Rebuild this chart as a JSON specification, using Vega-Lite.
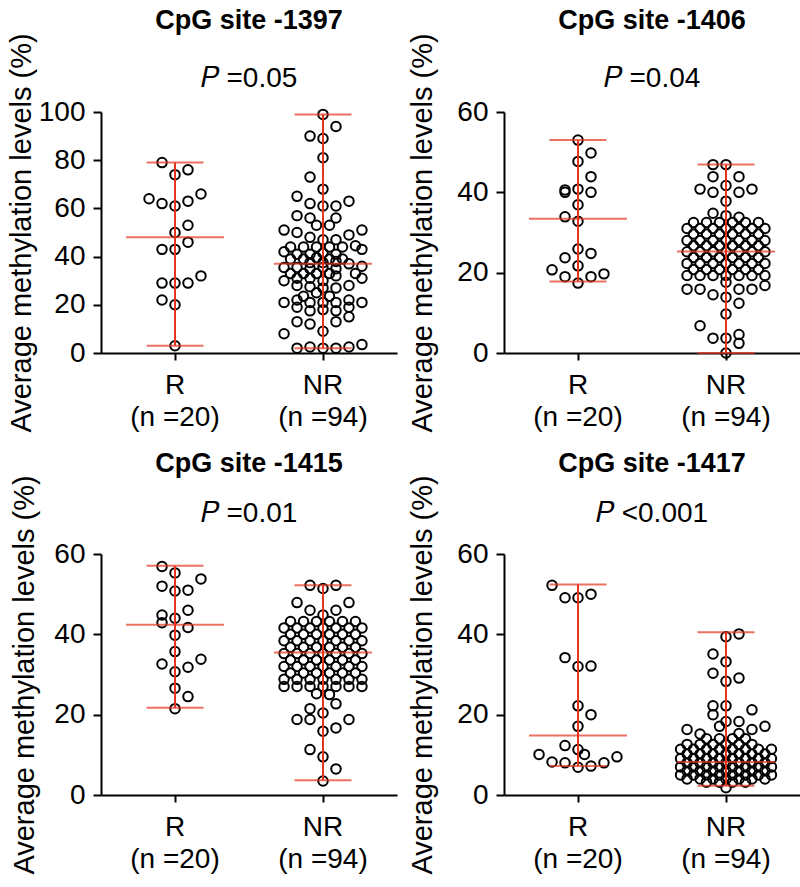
{
  "$schema": "https://vega.github.io/schema/vega-lite/v6.json",
  "padding": {"left": 7, "top": 6, "right": 2, "bottom": 2},
  "background": "white",
  "config": {
    "font": "Liberation Sans",
    "view": {"stroke": null},
    "axis": {"domainColor": "black", "domainWidth": 2, "tickColor": "black", "tickWidth": 2, "tickSize": 8, "labelColor": "black", "titleColor": "black", "labelFontSize": 28, "titleFontSize": 29, "titleFontWeight": "normal", "grid": false, "labelFont": "Liberation Sans", "titleFont": "Liberation Sans", "labelPadding": 8},
    "axisX": {"labelAngle": 0, "tickSize": 7, "labelPadding": 11, "labelLineHeight": 32},
    "point": {"shape": "circle", "filled": false, "stroke": "black", "strokeWidth": 2, "size": 90, "opacity": 1},
    "tick": {"color": "#e6341f", "thickness": 2, "orient": "horizontal"},
    "rule": {"color": "#e6341f", "strokeWidth": 2},
    "title": {"fontSize": 27, "fontWeight": "bold", "subtitleFontSize": 28, "color": "black", "subtitleColor": "black", "anchor": "middle", "font": "Liberation Sans", "subtitleFont": "Liberation Sans"}
  },
  "datasets": {
    "pts": [
      {"site":"-1397","group":"R","slot":-1,"value":79},{"site":"-1397","group":"R","slot":0,"value":74},{"site":"-1397","group":"R","slot":1,"value":76},{"site":"-1397","group":"R","slot":-2,"value":64},{"site":"-1397","group":"R","slot":-1,"value":62},{"site":"-1397","group":"R","slot":0,"value":61},{"site":"-1397","group":"R","slot":1,"value":63},{"site":"-1397","group":"R","slot":2,"value":66},{"site":"-1397","group":"R","slot":1,"value":53},{"site":"-1397","group":"R","slot":0,"value":50},{"site":"-1397","group":"R","slot":-1,"value":43},{"site":"-1397","group":"R","slot":0,"value":43},{"site":"-1397","group":"R","slot":1,"value":46},{"site":"-1397","group":"R","slot":-1,"value":29},{"site":"-1397","group":"R","slot":0,"value":29},{"site":"-1397","group":"R","slot":1,"value":29},{"site":"-1397","group":"R","slot":2,"value":32},{"site":"-1397","group":"R","slot":-1,"value":22},{"site":"-1397","group":"R","slot":0,"value":20},{"site":"-1397","group":"R","slot":0,"value":3},

      {"site":"-1397","group":"NR","slot":0,"value":99},{"site":"-1397","group":"NR","slot":1,"value":94},{"site":"-1397","group":"NR","slot":-1,"value":90},{"site":"-1397","group":"NR","slot":0,"value":89},{"site":"-1397","group":"NR","slot":0,"value":81},{"site":"-1397","group":"NR","slot":-1,"value":73},{"site":"-1397","group":"NR","slot":0,"value":68},
      {"site":"-1397","group":"NR","slot":-2,"value":65},{"site":"-1397","group":"NR","slot":-1,"value":62},{"site":"-1397","group":"NR","slot":0,"value":61},{"site":"-1397","group":"NR","slot":1,"value":61},{"site":"-1397","group":"NR","slot":2,"value":63},
      {"site":"-1397","group":"NR","slot":-2,"value":57},{"site":"-1397","group":"NR","slot":-1,"value":56},{"site":"-1397","group":"NR","slot":1,"value":56},{"site":"-1397","group":"NR","slot":-0.5,"value":53},{"site":"-1397","group":"NR","slot":0.5,"value":53},
      {"site":"-1397","group":"NR","slot":-3,"value":51},{"site":"-1397","group":"NR","slot":-2,"value":50},{"site":"-1397","group":"NR","slot":-1,"value":48},{"site":"-1397","group":"NR","slot":0,"value":47},{"site":"-1397","group":"NR","slot":1,"value":47},{"site":"-1397","group":"NR","slot":2,"value":49},{"site":"-1397","group":"NR","slot":3,"value":51},
      {"site":"-1397","group":"NR","slot":-3,"value":42},{"site":"-1397","group":"NR","slot":-2.5,"value":44},{"site":"-1397","group":"NR","slot":-1.5,"value":44},{"site":"-1397","group":"NR","slot":-0.5,"value":44},{"site":"-1397","group":"NR","slot":0.5,"value":44},{"site":"-1397","group":"NR","slot":1.5,"value":44},{"site":"-1397","group":"NR","slot":2.5,"value":44.5},{"site":"-1397","group":"NR","slot":3,"value":43},
      {"site":"-1397","group":"NR","slot":-2,"value":41},{"site":"-1397","group":"NR","slot":-1,"value":41},{"site":"-1397","group":"NR","slot":0,"value":41.5},{"site":"-1397","group":"NR","slot":1,"value":41},
      {"site":"-1397","group":"NR","slot":-2.5,"value":39},{"site":"-1397","group":"NR","slot":-1.5,"value":39},{"site":"-1397","group":"NR","slot":-0.5,"value":39.5},{"site":"-1397","group":"NR","slot":0.5,"value":39},{"site":"-1397","group":"NR","slot":1.5,"value":39},
      {"site":"-1397","group":"NR","slot":-1,"value":37.5},{"site":"-1397","group":"NR","slot":0,"value":37.5},{"site":"-1397","group":"NR","slot":1,"value":38},{"site":"-1397","group":"NR","slot":2,"value":37},
      {"site":"-1397","group":"NR","slot":-3,"value":35.5},{"site":"-1397","group":"NR","slot":-2,"value":35.5},{"site":"-1397","group":"NR","slot":-1,"value":35},{"site":"-1397","group":"NR","slot":0,"value":35.5},{"site":"-1397","group":"NR","slot":1,"value":35},{"site":"-1397","group":"NR","slot":3,"value":36},
      {"site":"-1397","group":"NR","slot":-2.5,"value":33},{"site":"-1397","group":"NR","slot":-1.5,"value":33},{"site":"-1397","group":"NR","slot":-0.5,"value":33},{"site":"-1397","group":"NR","slot":0.5,"value":33},{"site":"-1397","group":"NR","slot":2.5,"value":33},
      {"site":"-1397","group":"NR","slot":-3,"value":30},{"site":"-1397","group":"NR","slot":-2,"value":31},{"site":"-1397","group":"NR","slot":-1,"value":31},{"site":"-1397","group":"NR","slot":0,"value":30},{"site":"-1397","group":"NR","slot":1,"value":32},{"site":"-1397","group":"NR","slot":3,"value":31},
      {"site":"-1397","group":"NR","slot":-2,"value":28},{"site":"-1397","group":"NR","slot":-1,"value":27.5},{"site":"-1397","group":"NR","slot":0,"value":27},{"site":"-1397","group":"NR","slot":1,"value":27},{"site":"-1397","group":"NR","slot":2,"value":28},
      {"site":"-1397","group":"NR","slot":-1.5,"value":23.5},{"site":"-1397","group":"NR","slot":-0.5,"value":25},{"site":"-1397","group":"NR","slot":0.5,"value":23.5},
      {"site":"-1397","group":"NR","slot":-3,"value":21},{"site":"-1397","group":"NR","slot":-2,"value":22},{"site":"-1397","group":"NR","slot":-1,"value":21},{"site":"-1397","group":"NR","slot":0,"value":21},{"site":"-1397","group":"NR","slot":1,"value":21},{"site":"-1397","group":"NR","slot":2,"value":22},{"site":"-1397","group":"NR","slot":3,"value":21},
      {"site":"-1397","group":"NR","slot":-2,"value":19},{"site":"-1397","group":"NR","slot":-1,"value":17.5},{"site":"-1397","group":"NR","slot":0,"value":18},{"site":"-1397","group":"NR","slot":1,"value":17.5},{"site":"-1397","group":"NR","slot":2,"value":19},
      {"site":"-1397","group":"NR","slot":2,"value":15},{"site":"-1397","group":"NR","slot":1,"value":13},{"site":"-1397","group":"NR","slot":-2,"value":13},{"site":"-1397","group":"NR","slot":-1,"value":12},
      {"site":"-1397","group":"NR","slot":0,"value":9},{"site":"-1397","group":"NR","slot":-3,"value":8},
      {"site":"-1397","group":"NR","slot":-2,"value":2},{"site":"-1397","group":"NR","slot":-1,"value":2.5},{"site":"-1397","group":"NR","slot":0,"value":2},{"site":"-1397","group":"NR","slot":1,"value":2},{"site":"-1397","group":"NR","slot":2,"value":2.5},{"site":"-1397","group":"NR","slot":3,"value":3.5},

      {"site":"-1406","group":"R","slot":0,"value":53},{"site":"-1406","group":"R","slot":1,"value":49.8},{"site":"-1406","group":"R","slot":0,"value":47.7},{"site":"-1406","group":"R","slot":1,"value":43.9},{"site":"-1406","group":"R","slot":-1,"value":40.6},{"site":"-1406","group":"R","slot":-1,"value":40},{"site":"-1406","group":"R","slot":0,"value":40.8},{"site":"-1406","group":"R","slot":1,"value":40},{"site":"-1406","group":"R","slot":0,"value":36.9},{"site":"-1406","group":"R","slot":-1,"value":33.9},{"site":"-1406","group":"R","slot":0,"value":32.8},{"site":"-1406","group":"R","slot":0,"value":25.9},{"site":"-1406","group":"R","slot":1,"value":24.8},{"site":"-1406","group":"R","slot":-1,"value":23.7},{"site":"-1406","group":"R","slot":0,"value":21.7},{"site":"-1406","group":"R","slot":-2,"value":20.7},{"site":"-1406","group":"R","slot":-1,"value":19},{"site":"-1406","group":"R","slot":1,"value":19},{"site":"-1406","group":"R","slot":2,"value":19.7},{"site":"-1406","group":"R","slot":0,"value":17.4},

      {"site":"-1406","group":"NR","slot":-1,"value":46.9},{"site":"-1406","group":"NR","slot":0,"value":46.9},{"site":"-1406","group":"NR","slot":-1,"value":43.9},{"site":"-1406","group":"NR","slot":1,"value":43.9},{"site":"-1406","group":"NR","slot":-2,"value":40.8},{"site":"-1406","group":"NR","slot":-1,"value":40},{"site":"-1406","group":"NR","slot":0,"value":41.7},{"site":"-1406","group":"NR","slot":1,"value":40},{"site":"-1406","group":"NR","slot":2,"value":40.8},{"site":"-1406","group":"NR","slot":0,"value":37.8},{"site":"-1406","group":"NR","slot":-1,"value":34.8},{"site":"-1406","group":"NR","slot":1,"value":33.8},{"site":"-1406","group":"NR","slot":0,"value":34.2},
      {"site":"-1406","group":"NR","slot":-2.5,"value":32.5},{"site":"-1406","group":"NR","slot":-1.5,"value":32.5},{"site":"-1406","group":"NR","slot":-0.5,"value":32.5},{"site":"-1406","group":"NR","slot":0.5,"value":32.5},{"site":"-1406","group":"NR","slot":1.5,"value":32.5},{"site":"-1406","group":"NR","slot":2.5,"value":32.5},
      {"site":"-1406","group":"NR","slot":-3,"value":31},{"site":"-1406","group":"NR","slot":-2,"value":31},{"site":"-1406","group":"NR","slot":-1,"value":31},{"site":"-1406","group":"NR","slot":0,"value":31},{"site":"-1406","group":"NR","slot":1,"value":31},{"site":"-1406","group":"NR","slot":2,"value":31},{"site":"-1406","group":"NR","slot":3,"value":31},
      {"site":"-1406","group":"NR","slot":-2.5,"value":29.6},{"site":"-1406","group":"NR","slot":-1.5,"value":29.6},{"site":"-1406","group":"NR","slot":-0.5,"value":29.6},{"site":"-1406","group":"NR","slot":0.5,"value":29.6},{"site":"-1406","group":"NR","slot":1.5,"value":29.6},{"site":"-1406","group":"NR","slot":2.5,"value":29.6},
      {"site":"-1406","group":"NR","slot":-3,"value":28},{"site":"-1406","group":"NR","slot":-2,"value":28},{"site":"-1406","group":"NR","slot":-1,"value":28},{"site":"-1406","group":"NR","slot":0,"value":28},{"site":"-1406","group":"NR","slot":1,"value":28},{"site":"-1406","group":"NR","slot":2,"value":28},{"site":"-1406","group":"NR","slot":3,"value":28},
      {"site":"-1406","group":"NR","slot":-2.5,"value":26.7},{"site":"-1406","group":"NR","slot":-1.5,"value":26.7},{"site":"-1406","group":"NR","slot":-0.5,"value":26.7},{"site":"-1406","group":"NR","slot":0.5,"value":26.7},{"site":"-1406","group":"NR","slot":1.5,"value":26.7},{"site":"-1406","group":"NR","slot":2.5,"value":26.7},
      {"site":"-1406","group":"NR","slot":-3,"value":25.2},{"site":"-1406","group":"NR","slot":-2,"value":25.2},{"site":"-1406","group":"NR","slot":-1,"value":25.2},{"site":"-1406","group":"NR","slot":0,"value":25.2},{"site":"-1406","group":"NR","slot":1,"value":25.2},{"site":"-1406","group":"NR","slot":2,"value":25.2},{"site":"-1406","group":"NR","slot":3,"value":25.2},
      {"site":"-1406","group":"NR","slot":-2.5,"value":23.8},{"site":"-1406","group":"NR","slot":-1.5,"value":23.8},{"site":"-1406","group":"NR","slot":-0.5,"value":23.8},{"site":"-1406","group":"NR","slot":0.5,"value":23.8},{"site":"-1406","group":"NR","slot":1.5,"value":23.8},{"site":"-1406","group":"NR","slot":2.5,"value":23.8},
      {"site":"-1406","group":"NR","slot":-3,"value":22.3},{"site":"-1406","group":"NR","slot":-2,"value":22.3},{"site":"-1406","group":"NR","slot":-1,"value":22.3},{"site":"-1406","group":"NR","slot":0,"value":22.3},{"site":"-1406","group":"NR","slot":1,"value":22.3},{"site":"-1406","group":"NR","slot":2,"value":22.3},{"site":"-1406","group":"NR","slot":3,"value":22.3},
      {"site":"-1406","group":"NR","slot":-2.5,"value":20.8},{"site":"-1406","group":"NR","slot":-1.5,"value":20.8},{"site":"-1406","group":"NR","slot":-0.5,"value":20.8},{"site":"-1406","group":"NR","slot":0.5,"value":20.8},{"site":"-1406","group":"NR","slot":1.5,"value":20.8},{"site":"-1406","group":"NR","slot":2.5,"value":20.8},
      {"site":"-1406","group":"NR","slot":-3,"value":19.3},{"site":"-1406","group":"NR","slot":-2,"value":19.3},{"site":"-1406","group":"NR","slot":-1,"value":19.3},{"site":"-1406","group":"NR","slot":0,"value":19.3},{"site":"-1406","group":"NR","slot":1,"value":19.3},{"site":"-1406","group":"NR","slot":2,"value":19.3},{"site":"-1406","group":"NR","slot":3,"value":19.3},
      {"site":"-1406","group":"NR","slot":0,"value":17.6},
      {"site":"-1406","group":"NR","slot":-3,"value":15.9},{"site":"-1406","group":"NR","slot":-2,"value":15.9},{"site":"-1406","group":"NR","slot":-1,"value":14.5},{"site":"-1406","group":"NR","slot":1,"value":15.9},{"site":"-1406","group":"NR","slot":2,"value":15.9},{"site":"-1406","group":"NR","slot":3,"value":16.8},{"site":"-1406","group":"NR","slot":0,"value":13.9},{"site":"-1406","group":"NR","slot":1,"value":12.4},{"site":"-1406","group":"NR","slot":0,"value":9.7},{"site":"-1406","group":"NR","slot":-2,"value":6.8},{"site":"-1406","group":"NR","slot":-1,"value":3.7},{"site":"-1406","group":"NR","slot":0,"value":3.7},{"site":"-1406","group":"NR","slot":1,"value":4.6},{"site":"-1406","group":"NR","slot":1,"value":2.4},{"site":"-1406","group":"NR","slot":0,"value":0},

      {"site":"-1415","group":"R","slot":-1,"value":56.9},{"site":"-1415","group":"R","slot":0,"value":55.3},{"site":"-1415","group":"R","slot":2,"value":53.8},{"site":"-1415","group":"R","slot":-1,"value":52},{"site":"-1415","group":"R","slot":0,"value":50.8},{"site":"-1415","group":"R","slot":1,"value":51},{"site":"-1415","group":"R","slot":1,"value":46},{"site":"-1415","group":"R","slot":-1,"value":44.8},{"site":"-1415","group":"R","slot":-1,"value":42.9},{"site":"-1415","group":"R","slot":0,"value":44},{"site":"-1415","group":"R","slot":1,"value":41.7},{"site":"-1415","group":"R","slot":0,"value":39.8},{"site":"-1415","group":"R","slot":0,"value":35.7},{"site":"-1415","group":"R","slot":-1,"value":32.6},{"site":"-1415","group":"R","slot":0,"value":30.7},{"site":"-1415","group":"R","slot":1,"value":31.8},{"site":"-1415","group":"R","slot":2,"value":33.8},{"site":"-1415","group":"R","slot":0,"value":26.6},{"site":"-1415","group":"R","slot":1,"value":24.5},{"site":"-1415","group":"R","slot":0,"value":21.5},

      {"site":"-1415","group":"NR","slot":-1,"value":52.2},{"site":"-1415","group":"NR","slot":1,"value":52.2},{"site":"-1415","group":"NR","slot":0,"value":51.4},{"site":"-1415","group":"NR","slot":-2,"value":47.9},{"site":"-1415","group":"NR","slot":2,"value":47.9},{"site":"-1415","group":"NR","slot":-1,"value":46},{"site":"-1415","group":"NR","slot":1,"value":46},{"site":"-1415","group":"NR","slot":0,"value":44.8},
      {"site":"-1415","group":"NR","slot":-2.5,"value":43.2},{"site":"-1415","group":"NR","slot":-1.5,"value":43.2},{"site":"-1415","group":"NR","slot":-0.5,"value":43.2},{"site":"-1415","group":"NR","slot":0.5,"value":43.2},{"site":"-1415","group":"NR","slot":1.5,"value":43.2},{"site":"-1415","group":"NR","slot":2.5,"value":43.2},
      {"site":"-1415","group":"NR","slot":-3,"value":41.6},{"site":"-1415","group":"NR","slot":-2,"value":41.6},{"site":"-1415","group":"NR","slot":-1,"value":41.6},{"site":"-1415","group":"NR","slot":0,"value":41.6},{"site":"-1415","group":"NR","slot":1,"value":41.6},{"site":"-1415","group":"NR","slot":2,"value":41.6},{"site":"-1415","group":"NR","slot":3,"value":41.6},
      {"site":"-1415","group":"NR","slot":-2.5,"value":40},{"site":"-1415","group":"NR","slot":-1.5,"value":40},{"site":"-1415","group":"NR","slot":-0.5,"value":40},{"site":"-1415","group":"NR","slot":0.5,"value":40},{"site":"-1415","group":"NR","slot":1.5,"value":40},{"site":"-1415","group":"NR","slot":2.5,"value":40},
      {"site":"-1415","group":"NR","slot":-3,"value":38.4},{"site":"-1415","group":"NR","slot":-2,"value":38.4},{"site":"-1415","group":"NR","slot":-1,"value":38.4},{"site":"-1415","group":"NR","slot":0,"value":38.4},{"site":"-1415","group":"NR","slot":1,"value":38.4},{"site":"-1415","group":"NR","slot":2,"value":38.4},{"site":"-1415","group":"NR","slot":3,"value":38.4},
      {"site":"-1415","group":"NR","slot":-2.5,"value":36.8},{"site":"-1415","group":"NR","slot":-1.5,"value":36.8},{"site":"-1415","group":"NR","slot":-0.5,"value":36.8},{"site":"-1415","group":"NR","slot":0.5,"value":36.8},{"site":"-1415","group":"NR","slot":1.5,"value":36.8},{"site":"-1415","group":"NR","slot":2.5,"value":36.8},
      {"site":"-1415","group":"NR","slot":-3,"value":35.2},{"site":"-1415","group":"NR","slot":-2,"value":35.2},{"site":"-1415","group":"NR","slot":-1,"value":35.2},{"site":"-1415","group":"NR","slot":0,"value":35.2},{"site":"-1415","group":"NR","slot":1,"value":35.2},{"site":"-1415","group":"NR","slot":2,"value":35.2},{"site":"-1415","group":"NR","slot":3,"value":35.2},
      {"site":"-1415","group":"NR","slot":-2.5,"value":33.6},{"site":"-1415","group":"NR","slot":-1.5,"value":33.6},{"site":"-1415","group":"NR","slot":-0.5,"value":33.6},{"site":"-1415","group":"NR","slot":0.5,"value":33.6},{"site":"-1415","group":"NR","slot":1.5,"value":33.6},{"site":"-1415","group":"NR","slot":2.5,"value":33.6},
      {"site":"-1415","group":"NR","slot":-3,"value":32},{"site":"-1415","group":"NR","slot":-2,"value":32},{"site":"-1415","group":"NR","slot":-1,"value":32},{"site":"-1415","group":"NR","slot":0,"value":32},{"site":"-1415","group":"NR","slot":1,"value":32},{"site":"-1415","group":"NR","slot":2,"value":32},{"site":"-1415","group":"NR","slot":3,"value":32},
      {"site":"-1415","group":"NR","slot":-2.5,"value":30.4},{"site":"-1415","group":"NR","slot":-1.5,"value":30.4},{"site":"-1415","group":"NR","slot":-0.5,"value":30.4},{"site":"-1415","group":"NR","slot":0.5,"value":30.4},{"site":"-1415","group":"NR","slot":1.5,"value":30.4},{"site":"-1415","group":"NR","slot":2.5,"value":30.4},
      {"site":"-1415","group":"NR","slot":-3,"value":28.8},{"site":"-1415","group":"NR","slot":-2,"value":28.8},{"site":"-1415","group":"NR","slot":-1,"value":28.8},{"site":"-1415","group":"NR","slot":0,"value":28.8},{"site":"-1415","group":"NR","slot":1,"value":28.8},{"site":"-1415","group":"NR","slot":2,"value":28.8},{"site":"-1415","group":"NR","slot":3,"value":28.8},
      {"site":"-1415","group":"NR","slot":-3,"value":27},{"site":"-1415","group":"NR","slot":-2,"value":27},{"site":"-1415","group":"NR","slot":-1,"value":27},{"site":"-1415","group":"NR","slot":0,"value":27},{"site":"-1415","group":"NR","slot":1,"value":27},{"site":"-1415","group":"NR","slot":2,"value":27},{"site":"-1415","group":"NR","slot":3,"value":27},
      {"site":"-1415","group":"NR","slot":-0.5,"value":25.2},{"site":"-1415","group":"NR","slot":0.5,"value":25},
      {"site":"-1415","group":"NR","slot":-1,"value":21.5},{"site":"-1415","group":"NR","slot":1,"value":22.7},{"site":"-1415","group":"NR","slot":0,"value":20.4},{"site":"-1415","group":"NR","slot":-2,"value":18.8},{"site":"-1415","group":"NR","slot":-1,"value":18.8},{"site":"-1415","group":"NR","slot":2,"value":18.8},{"site":"-1415","group":"NR","slot":0,"value":15.9},{"site":"-1415","group":"NR","slot":1,"value":16.7},{"site":"-1415","group":"NR","slot":-1,"value":11.3},{"site":"-1415","group":"NR","slot":0,"value":9.5},{"site":"-1415","group":"NR","slot":1,"value":6.5},{"site":"-1415","group":"NR","slot":0,"value":3.5},

      {"site":"-1417","group":"R","slot":-2,"value":52.2},{"site":"-1417","group":"R","slot":-1,"value":49.1},{"site":"-1417","group":"R","slot":0,"value":49.1},{"site":"-1417","group":"R","slot":1,"value":50},{"site":"-1417","group":"R","slot":-1,"value":34.2},{"site":"-1417","group":"R","slot":0,"value":32},{"site":"-1417","group":"R","slot":1,"value":32.1},{"site":"-1417","group":"R","slot":0,"value":22.2},{"site":"-1417","group":"R","slot":1,"value":20},{"site":"-1417","group":"R","slot":0,"value":17.1},{"site":"-1417","group":"R","slot":-1,"value":12.3},{"site":"-1417","group":"R","slot":0,"value":11.3},{"site":"-1417","group":"R","slot":0.5,"value":10.1},{"site":"-1417","group":"R","slot":-3,"value":10.1},{"site":"-1417","group":"R","slot":-2,"value":8.2},{"site":"-1417","group":"R","slot":-1,"value":8},{"site":"-1417","group":"R","slot":0,"value":6.9},{"site":"-1417","group":"R","slot":1,"value":7.2},{"site":"-1417","group":"R","slot":2,"value":8},{"site":"-1417","group":"R","slot":3,"value":9.5},

      {"site":"-1417","group":"NR","slot":0,"value":39.4},{"site":"-1417","group":"NR","slot":1,"value":40.1},{"site":"-1417","group":"NR","slot":-1,"value":35.1},{"site":"-1417","group":"NR","slot":0,"value":33.2},{"site":"-1417","group":"NR","slot":-1,"value":30.3},{"site":"-1417","group":"NR","slot":1,"value":29.1},{"site":"-1417","group":"NR","slot":0,"value":28.3},{"site":"-1417","group":"NR","slot":-1,"value":22.2},{"site":"-1417","group":"NR","slot":0,"value":22.2},{"site":"-1417","group":"NR","slot":-1,"value":20},{"site":"-1417","group":"NR","slot":2,"value":21.2},{"site":"-1417","group":"NR","slot":1,"value":18.3},{"site":"-1417","group":"NR","slot":0,"value":18.3},{"site":"-1417","group":"NR","slot":-3,"value":16.3},{"site":"-1417","group":"NR","slot":-2,"value":15.2},{"site":"-1417","group":"NR","slot":2,"value":16.3},{"site":"-1417","group":"NR","slot":3,"value":17.1},{"site":"-1417","group":"NR","slot":1,"value":15.3},{"site":"-1417","group":"NR","slot":-0.5,"value":17.1},
      {"site":"-1417","group":"NR","slot":0,"value":1.8},
      {"site":"-1417","group":"NR","slot":-1.5,"value":14},{"site":"-1417","group":"NR","slot":-0.5,"value":14},{"site":"-1417","group":"NR","slot":0.5,"value":14},{"site":"-1417","group":"NR","slot":1.5,"value":14},
      {"site":"-1417","group":"NR","slot":-3,"value":12.6},{"site":"-1417","group":"NR","slot":-2,"value":12.6},{"site":"-1417","group":"NR","slot":-1,"value":12.6},{"site":"-1417","group":"NR","slot":0,"value":12.6},{"site":"-1417","group":"NR","slot":1,"value":12.6},{"site":"-1417","group":"NR","slot":2,"value":12.6},
      {"site":"-1417","group":"NR","slot":-3.5,"value":11.4},{"site":"-1417","group":"NR","slot":-2.5,"value":11.4},{"site":"-1417","group":"NR","slot":-1.5,"value":11.4},{"site":"-1417","group":"NR","slot":-0.5,"value":11.4},{"site":"-1417","group":"NR","slot":0.5,"value":11.4},{"site":"-1417","group":"NR","slot":1.5,"value":11.4},{"site":"-1417","group":"NR","slot":2.5,"value":11.4},{"site":"-1417","group":"NR","slot":3.5,"value":11.4},
      {"site":"-1417","group":"NR","slot":-3,"value":10.2},{"site":"-1417","group":"NR","slot":-2,"value":10.2},{"site":"-1417","group":"NR","slot":-1,"value":10.2},{"site":"-1417","group":"NR","slot":0,"value":10.2},{"site":"-1417","group":"NR","slot":1,"value":10.2},{"site":"-1417","group":"NR","slot":2,"value":10.2},{"site":"-1417","group":"NR","slot":3,"value":10.2},
      {"site":"-1417","group":"NR","slot":-3.5,"value":9.1},{"site":"-1417","group":"NR","slot":-2.5,"value":9.1},{"site":"-1417","group":"NR","slot":-1.5,"value":9.1},{"site":"-1417","group":"NR","slot":-0.5,"value":9.1},{"site":"-1417","group":"NR","slot":0.5,"value":9.1},{"site":"-1417","group":"NR","slot":1.5,"value":9.1},{"site":"-1417","group":"NR","slot":2.5,"value":9.1},{"site":"-1417","group":"NR","slot":3.5,"value":9.1},
      {"site":"-1417","group":"NR","slot":-3,"value":8},{"site":"-1417","group":"NR","slot":-2,"value":8},{"site":"-1417","group":"NR","slot":-1,"value":8},{"site":"-1417","group":"NR","slot":0,"value":8},{"site":"-1417","group":"NR","slot":1,"value":8},{"site":"-1417","group":"NR","slot":2,"value":8},{"site":"-1417","group":"NR","slot":3,"value":8},
      {"site":"-1417","group":"NR","slot":-3.5,"value":7},{"site":"-1417","group":"NR","slot":-2.5,"value":7},{"site":"-1417","group":"NR","slot":-1.5,"value":7},{"site":"-1417","group":"NR","slot":-0.5,"value":7},{"site":"-1417","group":"NR","slot":0.5,"value":7},{"site":"-1417","group":"NR","slot":1.5,"value":7},{"site":"-1417","group":"NR","slot":2.5,"value":7},{"site":"-1417","group":"NR","slot":3.5,"value":7},
      {"site":"-1417","group":"NR","slot":-3,"value":6},{"site":"-1417","group":"NR","slot":-2,"value":6},{"site":"-1417","group":"NR","slot":-1,"value":6},{"site":"-1417","group":"NR","slot":0,"value":6},{"site":"-1417","group":"NR","slot":1,"value":6},{"site":"-1417","group":"NR","slot":2,"value":6},{"site":"-1417","group":"NR","slot":3,"value":6},
      {"site":"-1417","group":"NR","slot":-3.5,"value":5},{"site":"-1417","group":"NR","slot":-2.5,"value":5},{"site":"-1417","group":"NR","slot":-1.5,"value":5},{"site":"-1417","group":"NR","slot":-0.5,"value":5},{"site":"-1417","group":"NR","slot":0.5,"value":5},{"site":"-1417","group":"NR","slot":1.5,"value":5},{"site":"-1417","group":"NR","slot":2.5,"value":5},{"site":"-1417","group":"NR","slot":3.5,"value":5},
      {"site":"-1417","group":"NR","slot":-3,"value":4},{"site":"-1417","group":"NR","slot":-2,"value":4},{"site":"-1417","group":"NR","slot":-1,"value":4},{"site":"-1417","group":"NR","slot":0,"value":4},{"site":"-1417","group":"NR","slot":1,"value":4},{"site":"-1417","group":"NR","slot":2,"value":4},{"site":"-1417","group":"NR","slot":3,"value":4},
      {"site":"-1417","group":"NR","slot":-1.5,"value":3.2},{"site":"-1417","group":"NR","slot":-0.5,"value":3.2},{"site":"-1417","group":"NR","slot":0.5,"value":3.2},{"site":"-1417","group":"NR","slot":1.5,"value":3.2}
    ],
    "stats": [
      {"site":"-1397","group":"R","median":48,"min":3,"max":79},
      {"site":"-1397","group":"NR","median":37,"min":2,"max":99},
      {"site":"-1406","group":"R","median":33.4,"min":17.8,"max":53},
      {"site":"-1406","group":"NR","median":25.3,"min":0,"max":46.9},
      {"site":"-1415","group":"R","median":42.4,"min":21.7,"max":57.1},
      {"site":"-1415","group":"NR","median":35.5,"min":3.7,"max":52.2},
      {"site":"-1417","group":"R","median":14.8,"min":7.2,"max":52.4},
      {"site":"-1417","group":"NR","median":8.2,"min":2.3,"max":40.5}
    ]
  },
  "spacing": 16,
  "vconcat": [
    {
      "spacing": 11,
      "hconcat": [
        {
          "width": 296, "height": 241,
          "title": {"text": "CpG site -1397", "subtitle": "𝑃 =0.05", "subtitlePadding": 30, "offset": -61},
          "layer": [
            {"data": {"name": "pts"}, "transform": [{"filter": "datum.site == '-1397'"}],
             "mark": {"type": "point"},
             "encoding": {
               "x": {"field": "group", "type": "nominal", "scale": {"type": "band", "domain": ["R", "NR"], "paddingInner": 0, "paddingOuter": 0}, "axis": {"title": null, "labelExpr": "datum.value == 'R' ? ['R', '(n =20)'] : ['NR', '(n =94)']"}},
               "xOffset": {"field": "slot", "type": "quantitative", "scale": {"domain": [-5.7, 5.7]}},
               "y": {"field": "value", "type": "quantitative", "scale": {"domain": [0, 100], "nice": false}, "axis": {"title": "Average methylation levels (%)", "values": [0, 20, 40, 60, 80, 100], "titlePadding": 2}}
             }},
            {"data": {"name": "stats"}, "transform": [{"filter": "datum.site == '-1397'"}],
             "mark": {"type": "rule"},
             "encoding": {"x": {"field": "group", "type": "nominal", "scale": {"type": "band", "domain": ["R", "NR"], "paddingInner": 0, "paddingOuter": 0}}, "y": {"field": "min", "type": "quantitative"}, "y2": {"field": "max"}}},
            {"data": {"name": "stats"}, "transform": [{"filter": "datum.site == '-1397'"}],
             "mark": {"type": "tick", "size": 98},
             "encoding": {"x": {"field": "group", "type": "nominal"}, "y": {"field": "median", "type": "quantitative"}}},
            {"data": {"name": "stats"}, "transform": [{"filter": "datum.site == '-1397'"}],
             "mark": {"type": "tick", "size": 57},
             "encoding": {"x": {"field": "group", "type": "nominal"}, "y": {"field": "min", "type": "quantitative"}}},
            {"data": {"name": "stats"}, "transform": [{"filter": "datum.site == '-1397'"}],
             "mark": {"type": "tick", "size": 57},
             "encoding": {"x": {"field": "group", "type": "nominal"}, "y": {"field": "max", "type": "quantitative"}}}
          ]
        },
        {
          "width": 296, "height": 241,
          "title": {"text": "CpG site -1406", "subtitle": "𝑃 =0.04", "subtitlePadding": 30, "offset": -61},
          "layer": [
            {"data": {"name": "pts"}, "transform": [{"filter": "datum.site == '-1406'"}],
             "mark": {"type": "point"},
             "encoding": {
               "x": {"field": "group", "type": "nominal", "scale": {"type": "band", "domain": ["R", "NR"], "paddingInner": 0, "paddingOuter": 0}, "axis": {"title": null, "labelExpr": "datum.value == 'R' ? ['R', '(n =20)'] : ['NR', '(n =94)']"}},
               "xOffset": {"field": "slot", "type": "quantitative", "scale": {"domain": [-5.7, 5.7]}},
               "y": {"field": "value", "type": "quantitative", "scale": {"domain": [0, 60], "nice": false}, "axis": {"title": "Average methylation levels (%)", "values": [0, 20, 40, 60], "titlePadding": 19}}
             }},
            {"data": {"name": "stats"}, "transform": [{"filter": "datum.site == '-1406'"}],
             "mark": {"type": "rule"},
             "encoding": {"x": {"field": "group", "type": "nominal", "scale": {"type": "band", "domain": ["R", "NR"], "paddingInner": 0, "paddingOuter": 0}}, "y": {"field": "min", "type": "quantitative"}, "y2": {"field": "max"}}},
            {"data": {"name": "stats"}, "transform": [{"filter": "datum.site == '-1406'"}],
             "mark": {"type": "tick", "size": 98},
             "encoding": {"x": {"field": "group", "type": "nominal"}, "y": {"field": "median", "type": "quantitative"}}},
            {"data": {"name": "stats"}, "transform": [{"filter": "datum.site == '-1406'"}],
             "mark": {"type": "tick", "size": 57},
             "encoding": {"x": {"field": "group", "type": "nominal"}, "y": {"field": "min", "type": "quantitative"}}},
            {"data": {"name": "stats"}, "transform": [{"filter": "datum.site == '-1406'"}],
             "mark": {"type": "tick", "size": 57},
             "encoding": {"x": {"field": "group", "type": "nominal"}, "y": {"field": "max", "type": "quantitative"}}}
          ]
        }
      ]
    },
    {
      "spacing": 11,
      "hconcat": [
        {
          "width": 296, "height": 241,
          "title": {"text": "CpG site -1415", "subtitle": "𝑃 =0.01", "subtitlePadding": 22, "offset": -54},
          "layer": [
            {"data": {"name": "pts"}, "transform": [{"filter": "datum.site == '-1415'"}],
             "mark": {"type": "point"},
             "encoding": {
               "x": {"field": "group", "type": "nominal", "scale": {"type": "band", "domain": ["R", "NR"], "paddingInner": 0, "paddingOuter": 0}, "axis": {"title": null, "labelExpr": "datum.value == 'R' ? ['R', '(n =20)'] : ['NR', '(n =94)']"}},
               "xOffset": {"field": "slot", "type": "quantitative", "scale": {"domain": [-5.7, 5.7]}},
               "y": {"field": "value", "type": "quantitative", "scale": {"domain": [0, 60], "nice": false}, "axis": {"title": "Average methylation levels (%)", "values": [0, 20, 40, 60], "titlePadding": 14}}
             }},
            {"data": {"name": "stats"}, "transform": [{"filter": "datum.site == '-1415'"}],
             "mark": {"type": "rule"},
             "encoding": {"x": {"field": "group", "type": "nominal", "scale": {"type": "band", "domain": ["R", "NR"], "paddingInner": 0, "paddingOuter": 0}}, "y": {"field": "min", "type": "quantitative"}, "y2": {"field": "max"}}},
            {"data": {"name": "stats"}, "transform": [{"filter": "datum.site == '-1415'"}],
             "mark": {"type": "tick", "size": 98},
             "encoding": {"x": {"field": "group", "type": "nominal"}, "y": {"field": "median", "type": "quantitative"}}},
            {"data": {"name": "stats"}, "transform": [{"filter": "datum.site == '-1415'"}],
             "mark": {"type": "tick", "size": 57},
             "encoding": {"x": {"field": "group", "type": "nominal"}, "y": {"field": "min", "type": "quantitative"}}},
            {"data": {"name": "stats"}, "transform": [{"filter": "datum.site == '-1415'"}],
             "mark": {"type": "tick", "size": 57},
             "encoding": {"x": {"field": "group", "type": "nominal"}, "y": {"field": "max", "type": "quantitative"}}}
          ]
        },
        {
          "width": 296, "height": 241,
          "title": {"text": "CpG site -1417", "subtitle": "𝑃 <0.001", "subtitlePadding": 22, "offset": -54},
          "layer": [
            {"data": {"name": "pts"}, "transform": [{"filter": "datum.site == '-1417'"}],
             "mark": {"type": "point"},
             "encoding": {
               "x": {"field": "group", "type": "nominal", "scale": {"type": "band", "domain": ["R", "NR"], "paddingInner": 0, "paddingOuter": 0}, "axis": {"title": null, "labelExpr": "datum.value == 'R' ? ['R', '(n =20)'] : ['NR', '(n =94)']"}},
               "xOffset": {"field": "slot", "type": "quantitative", "scale": {"domain": [-5.7, 5.7]}},
               "y": {"field": "value", "type": "quantitative", "scale": {"domain": [0, 60], "nice": false}, "axis": {"title": "Average methylation levels (%)", "values": [0, 20, 40, 60], "titlePadding": 19}}
             }},
            {"data": {"name": "stats"}, "transform": [{"filter": "datum.site == '-1417'"}],
             "mark": {"type": "rule"},
             "encoding": {"x": {"field": "group", "type": "nominal", "scale": {"type": "band", "domain": ["R", "NR"], "paddingInner": 0, "paddingOuter": 0}}, "y": {"field": "min", "type": "quantitative"}, "y2": {"field": "max"}}},
            {"data": {"name": "stats"}, "transform": [{"filter": "datum.site == '-1417'"}],
             "mark": {"type": "tick", "size": 98},
             "encoding": {"x": {"field": "group", "type": "nominal"}, "y": {"field": "median", "type": "quantitative"}}},
            {"data": {"name": "stats"}, "transform": [{"filter": "datum.site == '-1417'"}],
             "mark": {"type": "tick", "size": 57},
             "encoding": {"x": {"field": "group", "type": "nominal"}, "y": {"field": "min", "type": "quantitative"}}},
            {"data": {"name": "stats"}, "transform": [{"filter": "datum.site == '-1417'"}],
             "mark": {"type": "tick", "size": 57},
             "encoding": {"x": {"field": "group", "type": "nominal"}, "y": {"field": "max", "type": "quantitative"}}}
          ]
        }
      ]
    }
  ]
}
